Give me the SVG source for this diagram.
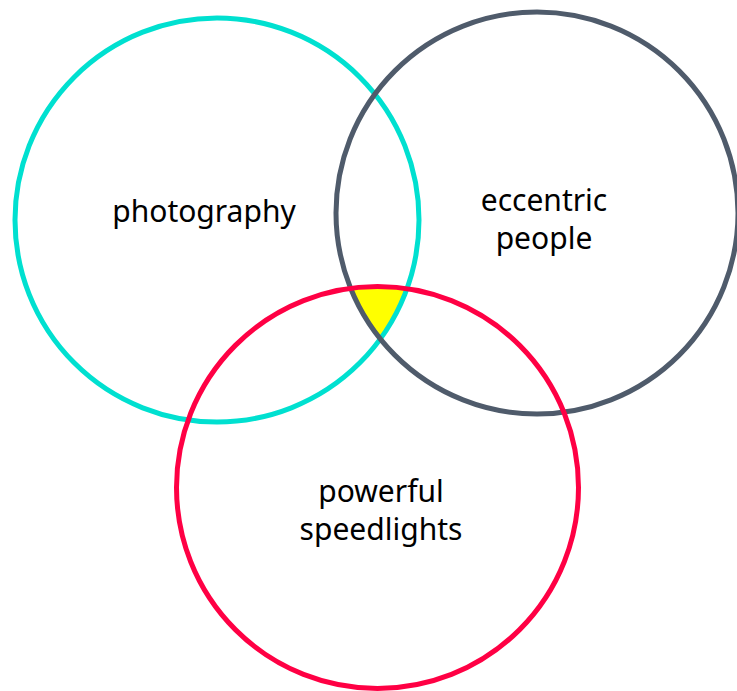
<svg xmlns="http://www.w3.org/2000/svg" width="737" height="691" viewBox="0 0 737 691">
<style>
.ring{fill:none;stroke-width:5}
.lbl{font-family:"Noto Sans","Open Sans",sans-serif;font-size:30px;fill:#000;text-anchor:middle}
</style>
<defs>
<clipPath id="clipA"><circle cx="217" cy="220" r="202"/></clipPath>
<clipPath id="clipB"><circle cx="537" cy="213" r="201"/></clipPath>
</defs>
<rect width="737" height="691" fill="#fff"/>
<g id="overlap" clip-path="url(#clipA)"><circle cx="377.5" cy="487.5" r="201" fill="#ffff00" clip-path="url(#clipB)"/></g>
<g id="photography"><circle class="ring" cx="217" cy="220" r="202" stroke="#00e0d0"/><text class="lbl" x="204" y="222">photography</text></g>
<g id="eccentric"><circle class="ring" cx="537" cy="213" r="201" stroke="#4f5b6b"/><text class="lbl" x="544" y="211">eccentric</text><text class="lbl" x="544" y="249">people</text></g>
<g id="speedlights"><circle class="ring" cx="377.5" cy="487.5" r="201" stroke="#ff0044"/><text class="lbl" x="381" y="502">powerful</text><text class="lbl" x="381" y="540">speedlights</text></g>
</svg>
